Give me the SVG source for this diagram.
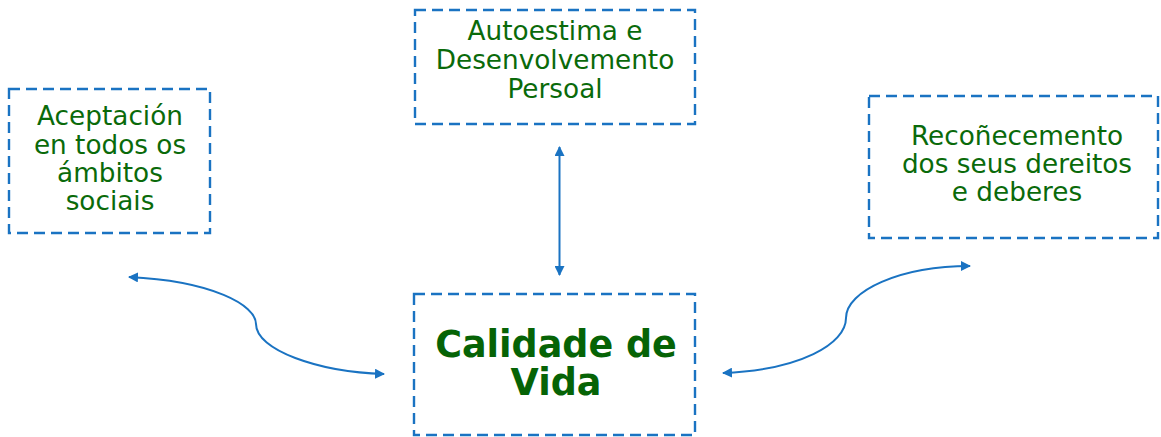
<svg xmlns="http://www.w3.org/2000/svg" width="1161" height="437" viewBox="0 0 1161 437">
<style>
.box{fill:none;stroke:#1a73c2;stroke-width:2.4;stroke-dasharray:11 6}
.t{font-family:"DejaVu Sans",Verdana,sans-serif;font-size:26.3px;fill:#0a6a0a;text-anchor:middle}
.b{font-family:"DejaVu Sans",Verdana,sans-serif;font-size:36.5px;font-weight:bold;fill:#066306;text-anchor:middle}
.c{fill:none;stroke:#1a73c2;stroke-width:2;marker-start:url(#ah);marker-end:url(#ah)}
</style>
<defs>
<marker id="ah" viewBox="0 0 10 10" refX="9" refY="5" markerWidth="5" markerHeight="5" orient="auto-start-reverse" markerUnits="strokeWidth">
<path d="M0,0 L10,5 L0,10 z" fill="#1a73c2"/>
</marker>
</defs>
<rect width="1161" height="437" fill="#ffffff"/>
<g id="connectors">
<line class="c" x1="559.5" y1="147" x2="559.5" y2="275"/>
<path class="c" d="M129,277 C212,281 256,305 256,324 C256,350 318,372 384,374"/>
<path class="c" d="M723,373 C800,370 846,344 846,318 C846,291 900,266 970,266"/>
</g>
<g id="node-autoestima">
<rect class="box" x="415" y="10" width="280" height="114"/>
<text class="t" x="555" y="39.5">Autoestima e</text>
<text class="t" x="555" y="69">Desenvolvemento</text>
<text class="t" x="555" y="97.5">Persoal</text>
</g>
<g id="node-aceptacion">
<rect class="box" x="9" y="89" width="201" height="144"/>
<text class="t" x="110" y="125">Aceptación</text>
<text class="t" x="110" y="154">en todos os</text>
<text class="t" x="110" y="182">ámbitos</text>
<text class="t" x="110" y="210">sociais</text>
</g>
<g id="node-reconecemento">
<rect class="box" x="869" y="96" width="289" height="142"/>
<text class="t" x="1017" y="145">Recoñecemento</text>
<text class="t" x="1017" y="173">dos seus dereitos</text>
<text class="t" x="1017" y="200.5">e deberes</text>
</g>
<g id="node-calidade">
<rect class="box" x="414" y="294" width="281" height="141"/>
<text class="b" x="556" y="357">Calidade de</text>
<text class="b" x="556" y="395">Vida</text>
</g>
</svg>
